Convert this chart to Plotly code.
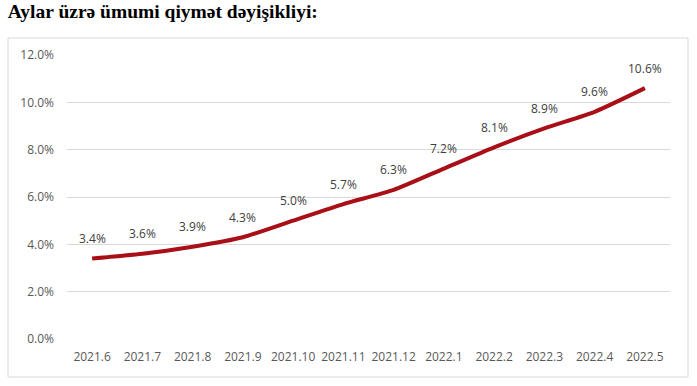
import plotly.graph_objects as go

months = ["2021.6", "2021.7", "2021.8", "2021.9", "2021.10", "2021.11", "2021.12",
          "2022.1", "2022.2", "2022.3", "2022.4", "2022.5"]
values = [3.4, 3.6, 3.9, 4.3, 5.0, 5.7, 6.3, 7.2, 8.1, 8.9, 9.6, 10.6]
title = "Aylar üzrə ümumi qiymət dəyişikliyi:"

idx = list(range(len(months)))

fig = go.Figure()
fig.add_trace(go.Scatter(
    x=idx, y=values, mode="lines",
    line=dict(color="#a80f16", width=4, shape="spline", smoothing=0.6),
    hoverinfo="skip", showlegend=False,
))
for i, v in zip(idx, values):
    fig.add_annotation(x=i, y=v, text=f"{v:.1f}%", showarrow=False,
                       yshift=20, font=dict(family="Open Sans, Liberation Sans", size=12, color="#404040"))

fig.add_shape(type="rect", xref="paper", yref="paper",
              x0=-0.0978, x1=1.0299, y0=-0.1338, y1=1.0599,
              line=dict(color="#d9d9d9", width=1), fillcolor="rgba(0,0,0,0)", layer="below")

fig.update_layout(
    width=697, height=386,
    margin=dict(l=67, r=27, t=55, b=47, autoexpand=False),
    paper_bgcolor="white", plot_bgcolor="white",
    title=dict(text="<b>" + title + "</b>", x=0.011, xanchor="left", y=0.99, yanchor="top",
               font=dict(family="Liberation Serif, Times New Roman", size=19.5, color="black")),
    xaxis=dict(range=[-0.5, 11.5], tickmode="array", tickvals=idx, ticktext=months,
               showgrid=False, showline=False, zeroline=False, automargin=False,
               ticks="", tickfont=dict(family="Open Sans, Liberation Sans", size=12, color="#595959"),
               ticklabelstandoff=9),
    yaxis=dict(range=[0, 12], dtick=2, tickformat=".1f", ticksuffix="%", showgrid=True,
               gridcolor="#d9d9d9", gridwidth=1, zeroline=False, showline=False, ticks="",
               automargin=False,
               tickfont=dict(family="Open Sans, Liberation Sans", size=12, color="#595959"),
               ticklabelstandoff=12),
)
fig.write_html("out.html", post_script="document.body.style.margin='0';",
               config={"displayModeBar": False})
